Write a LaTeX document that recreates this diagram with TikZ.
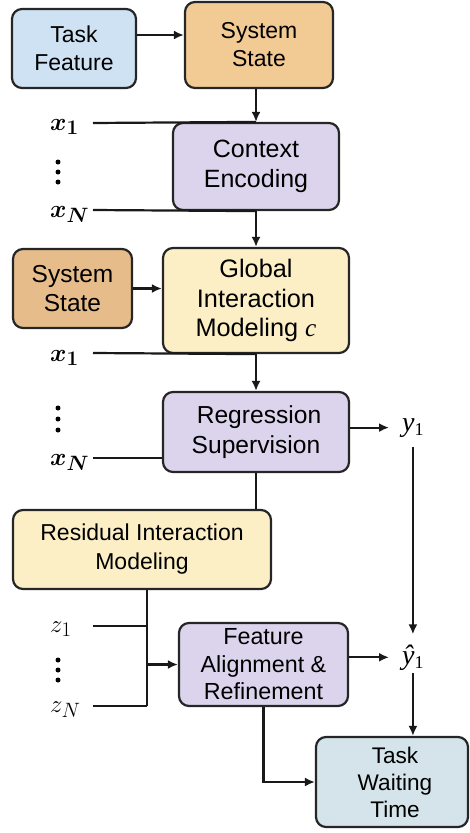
\documentclass[tikz,border=0pt]{standalone}
\usepackage{amsmath}
\usepackage{fontspec}
\setmainfont{Liberation Sans}
\newfontfamily\tnr{Liberation Serif}
\usetikzlibrary{arrows.meta,calc}
\definecolor{cBlue}{HTML}{CFE2F3}
\definecolor{cOrange}{HTML}{F2CA94}
\definecolor{cOrangeD}{HTML}{E6BD8A}
\definecolor{cLav}{HTML}{DCD4EC}
\definecolor{cYel}{HTML}{FCEFC6}
\definecolor{cTeal}{HTML}{D4E4EA}
\begin{document}
\begin{tikzpicture}[x=1pt,y=-1pt,
  box/.style={draw=black!85, line width=2.2pt, rounded corners=10pt, align=center, inner sep=0pt, font=\fontsize{23}{28}\selectfont},
  conn/.style={line width=2.2pt, draw=black!90},
  arr/.style={conn, -{Latex[length=10pt,width=9pt]}},
  lab/.style={inner sep=0pt, anchor=base west, font=\fontsize{24.88}{26}\selectfont},
  ylab/.style={inner xsep=13pt, anchor=base west, font=\tnr\fontsize{28}{28}\selectfont}
]
\useasboundingbox (0,0) rectangle (469,833);

% boxes
\node[box, fill=cBlue, minimum width=124pt, minimum height=79pt] (tf) at (74,48.5) {Task\\Feature};
\node[box, fill=cOrange, minimum width=148pt, minimum height=86pt] (ss1) at (259,45) {System\\State};
\node[box, fill=cLav, minimum width=166pt, minimum height=87pt, font=\fontsize{25}{30}\selectfont] (ce) at (256,166.5) {Context\\Encoding};
\node[box, fill=cOrangeD, minimum width=119pt, minimum height=79pt, font=\fontsize{24.5}{29}\selectfont] (ss2) at (72.5,288.5) {System\\State};
\node[box, fill=cYel, minimum width=186pt, minimum height=105pt, font=\fontsize{25.3}{29.5}\selectfont] (gim) at (256,300.5) {Global\\Interaction\\Modeling {\tnr\itshape c}};
\node[box, fill=cLav, minimum width=186pt, minimum height=80pt, font=\fontsize{24.6}{30}\selectfont] (rs) at (256,432) {\hspace*{6pt}Regression\\Supervision};
\node[box, fill=cYel, minimum width=258pt, minimum height=79pt, font=\fontsize{23}{29}\selectfont] (rim) at (142,549.5) {Residual Interaction\\Modeling};
\node[box, fill=cLav, minimum width=169pt, minimum height=83pt, font=\fontsize{23.3}{27.5}\selectfont] (far) at (263.5,664.5) {Feature\\Alignment \&\\Refinement};
\node[box, fill=cTeal, minimum width=152pt, minimum height=90pt, font=\fontsize{22.6}{27}\selectfont] (tw) at (392,782) {\hspace*{6pt}Task\\\hspace*{6pt}Waiting\\\hspace*{6pt}Time};

% input labels
\node[lab] (xa1) at (50,130) {$\boldsymbol{x_1}$};
\node[lab] (xaN) at (50,217) {$\boldsymbol{x_N}$};
\node[lab] (xb1) at (50,361) {$\boldsymbol{x_1}$};
\node[lab] (xbN) at (50,465) {$\boldsymbol{x_N}$};
\node[lab] (z1) at (50,632) {$z_1$};
\node[lab] (zN) at (50,712) {$z_N$};
\foreach \yy in {162,172,182,408,419,430,660,670,680}
  \fill (58,\yy) circle (2.5pt);

% output labels
\node[ylab, inner ysep=10pt] (y1) at (389,431) {\textit{y}\raisebox{-4pt}{\fontsize{18}{18}\selectfont 1}};
\node[ylab, inner ysep=3pt] (yh1) at (389,664) {\textit{\^{y}}\raisebox{-4pt}{\fontsize{18}{18}\selectfont 1}};

% coordinates for free ends
\coordinate (r35) at (0,35);
\coordinate (sxa1) at (93,123);
\coordinate (sxaN) at (93,210);
\coordinate (sxb1) at (93,353);
\coordinate (sxbN) at (93,458);
\coordinate (sz1) at (93,626);
\coordinate (szN) at (93,706);
\coordinate (jN) at (147,706);

% connectors
\draw[arr] (tf.east |- r35) -- (ss1.west |- r35);
\draw[arr] (ce.north |- ss1.south) -- (ce.north);
\draw[conn] (sxa1) -- (ce.north);
\draw[conn] (sxaN) -- (ce.south);
\draw[arr] (ce.south) -- (gim.north);
\draw[arr] (ss2.east) -- (ss2.east -| gim.west);
\draw[conn] (sxb1) -- (gim.south);
\draw[arr] (gim.south) -- (rs.north);
\draw[conn] (sxbN) -- (sxbN -| rs.west);
\draw[arr] (y1.west -| rs.east) -- (y1.west);
\draw[arr, shorten >=7pt] (y1.south) -- (yh1.north);
\draw[conn] (rs.south) -- (rs.south |- rim.north);
\draw[conn] (rim.south -| jN) -- (jN);
\draw[conn] (sz1) -- (sz1 -| jN);
\draw[conn] (szN) -- (jN);
\draw[arr] (far.west -| jN) -- (far.west);
\draw[arr] (yh1.west -| far.east) -- (yh1.west);
\draw[arr] (yh1.south) -- (yh1.south |- tw.north);
\draw[arr] (far.south) |- (tw.west);
\end{tikzpicture}
\end{document}
